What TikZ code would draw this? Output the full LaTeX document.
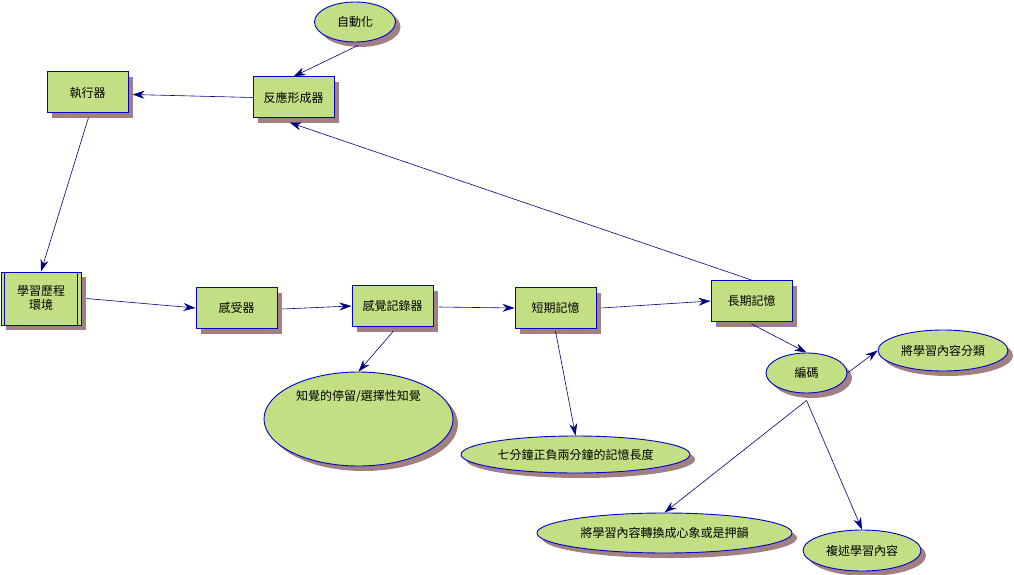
\documentclass[tikz,border=0pt]{standalone}
\usepackage{fontspec}
\setmainfont{Noto Sans CJK TC}
\usetikzlibrary{shapes.geometric,shadows,arrows.meta,calc}
\definecolor{fillg}{RGB}{194,223,132}
\definecolor{bordb}{RGB}{0,0,210}
\definecolor{linen}{RGB}{0,0,128}
\definecolor{shad}{RGB}{160,128,128}
\tikzset{
  shd/.style={drop shadow={shadow xshift=5pt,shadow yshift=-5pt,fill=shad,opacity=1}},
  boxn/.style={draw=bordb,line width=1pt,fill=fillg,shd,minimum width=81pt,minimum height=41pt,inner sep=0pt,font=\fontsize{12}{14}\selectfont},
  ell/.style={ellipse,draw=bordb,line width=0.9pt,fill=fillg,shd,inner sep=0pt,font=\fontsize{12}{14}\selectfont},
  conn/.style={draw=linen,line width=0.6pt,-{Stealth[length=12pt,width=8pt]}},
}
\begin{document}
\begin{tikzpicture}[x=1pt,y=-1pt]
\useasboundingbox (0,0) rectangle (1014,575);
% boxes
\node[boxn] (exe) at (87.5,92.5) {執行器};
\node[boxn] (resp) at (293.5,97.5) {反應形成器};
\node[ell,minimum width=81pt,minimum height=40pt] (auto) at (355,22) {自動化};
\node[boxn,minimum width=80pt,minimum height=53pt,align=center] (env) at (41,298.5) {學習歷程\\環境};
\draw[bordb,line width=1pt] ($(env.north west)+(4,0)$) -- ($(env.south west)+(4,0)$);
\draw[bordb,line width=1pt] ($(env.north east)+(-4,0)$) -- ($(env.south east)+(-4,0)$);
\node[boxn] (rec) at (236.5,308) {感受器};
\node[boxn] (sreg) at (392.5,306) {感覺記錄器};
\node[boxn] (stm) at (555.5,308) {短期記憶};
\node[boxn] (ltm) at (751.5,301) {長期記憶};
\node[ell,minimum width=81pt,minimum height=40pt] (enc) at (806.5,373) {編碼};
\node[ell,minimum width=130pt,minimum height=41pt] (cls) at (943,350.5) {將學習內容分類};
\node[ell,minimum width=189pt,minimum height=94pt] (perc) at (358.5,419) {};
\node[font=\fontsize{12}{14}\selectfont] (perct) at (358.5,396) {知覺的停留/選擇性知覺};
\node[ell,minimum width=229pt,minimum height=37pt] (seven) at (575.5,454.5) {七分鐘正負兩分鐘的記憶長度};
\node[ell,minimum width=255pt,minimum height=40pt] (img) at (664.5,533) {將學習內容轉換成心象或是押韻};
\node[ell,minimum width=118pt,minimum height=41pt] (reh) at (862,550.5) {複述學習內容};
% connectors
\draw[conn] ($(auto.south)+(3,3)$) -- (resp.north);
\draw[conn] (resp.west) -- ($(exe.east)+(4,2)$);
\draw[conn] ($(exe.south)+(1,4)$) -- (env.north);
\draw[conn] ($(env.east)+(5,0)$) -- (rec.west);
\draw[conn] ($(rec.east)+(5,1)$) -- (sreg.west);
\draw[conn] ($(sreg.east)+(5,1)$) -- (stm.west);
\draw[conn] ($(stm.east)+(5,0)$) -- (ltm.west);
\draw[conn] (ltm.north) -- ($(resp.south)+(-4,4)$);
\draw[conn] ($(ltm.south)+(0,2)$) -- (enc.north);
\draw[conn] (enc.east) -- (cls.west);
\draw[conn] ($(sreg.south)+(1,4)$) -- (perc.north);
\draw[conn] ($(stm.south)+(0,2)$) -- (seven.north);
\draw[conn] ($(enc.south)+(0,7)$) -- (img.north);
\draw[conn] ($(enc.south)+(0,7)$) -- (reh.north);
\end{tikzpicture}
\end{document}
